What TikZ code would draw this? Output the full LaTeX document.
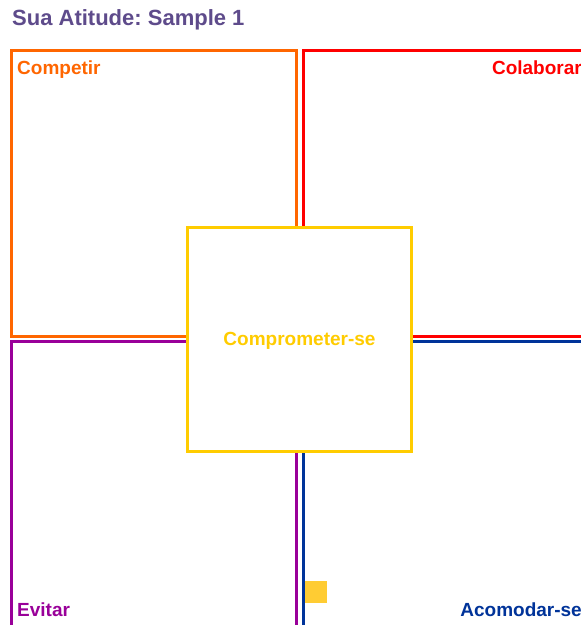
\documentclass[tikz,border=0pt]{standalone}
\usepackage{fontspec}
\setmainfont{Liberation Sans}
\frenchspacing
\definecolor{cOrange}{RGB}{255,102,0}
\definecolor{cRed}{RGB}{255,0,0}
\definecolor{cPurple}{RGB}{153,0,153}
\definecolor{cBlue}{RGB}{0,51,153}
\definecolor{cYellow}{RGB}{255,204,0}
\definecolor{cSmall}{RGB}{255,204,51}
\definecolor{cTitle}{RGB}{94,75,139}
\tikzset{
  quad/.style={line width=3pt},
  lbl/.style={inner sep=0pt, font=\fontsize{19}{22}\selectfont\bfseries},
}
\begin{document}
\begin{tikzpicture}[x=1pt,y=-1pt]
\useasboundingbox (0,0) rectangle (581,625);
\fill[white] (0,0) rectangle (581,625);
\begin{scope}
\clip (0,0) rectangle (581,625);
\draw[quad, cOrange] (11.3,50.7) rectangle (296.4,336.2);
\draw[quad, cRed] (303,50.7) rectangle (588,336.2);
\draw[quad, cPurple] (11.3,341.7) rectangle (296.5,627);
\draw[quad, cBlue] (303.5,341.7) rectangle (589,627);
\draw[quad, cYellow, fill=white] (187.5,227.2) rectangle (411.5,451.2);
\fill[cSmall] (305,581) rectangle (327,603);
\end{scope}
\node[lbl, anchor=base west, text=cTitle, font=\fontsize{22}{26}\selectfont\bfseries] (title) at (12,25) {Sua Atitude: Sample 1};
\node[lbl, anchor=base west, text=cOrange] (competir) at (17,74.5) {Competir};
\node[lbl, anchor=base east, text=cRed] (colaborar) at (582,74.5) {Colaborar};
\node[lbl, anchor=base, text=cYellow] (comprometer) at (299.5,345.5) {Comprometer-se};
\node[lbl, anchor=base west, text=cPurple] (evitar) at (17,616) {Evitar};
\node[lbl, anchor=base east, text=cBlue] (acomodar) at (582,616) {Acomodar-se};
\end{tikzpicture}
\end{document}
